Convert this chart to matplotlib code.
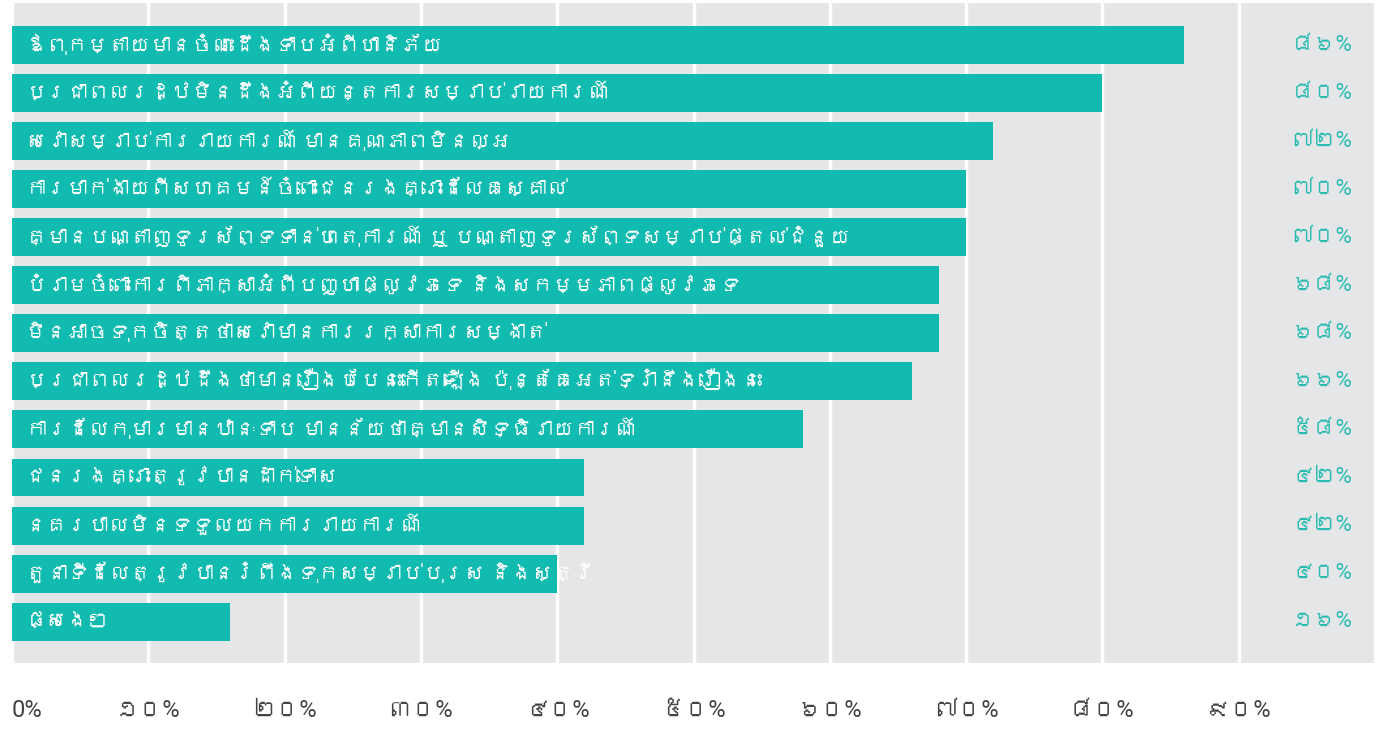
import matplotlib
matplotlib.use("Agg")
import matplotlib.pyplot as plt
from matplotlib import font_manager as fm
from matplotlib.ft2font import FT2Font

categories = [
    "ឪពុកម្តាយមានចំណេះដឹងទាបអំពីហានិភ័យ",
    "ប្រជាពលរដ្ឋមិនដឹងអំពីយន្តការសម្រាប់រាយការណ៍",
    "សេវាសម្រាប់ការរាយការណ៍ មានគុណភាពមិនល្អ",
    "ការមាក់ងាយពីសហគមន៍ចំពោះជនរងគ្រោះដែលគេស្គាល់",
    "គ្មានបណ្តាញទូរស័ព្ទទាន់ហេតុការណ៍ ឬ បណ្តាញទូរស័ព្ទសម្រាប់ផ្តល់ជំនួយ",
    "បំរាមចំពោះការពិភាក្សាអំពីបញ្ហាផ្លូវភេទ និងសកម្មភាពផ្លូវភេទ",
    "មិនអាចទុកចិត្តថាសេវាមានការរក្សាការសម្ងាត់",
    "ប្រជាពលរដ្ឋដឹងថាមានរឿងបែបនេះកើតឡើង ប៉ុន្តែគេអត់ទ្រាំនឹងរឿងនេះ",
    "ការដែលកុមារមានឋានៈទាប មានន័យថាគ្មានសិទ្ធិរាយការណ៍",
    "ជនរងគ្រោះត្រូវបានដាក់ទោស",
    "នគរបាលមិនទទួលយកការរាយការណ៍",
    "តួនាទីដែលត្រូវបានរំពឹងទុកសម្រាប់បុរស និងស្ត្រី",
    "ផ្សេងៗ",
]
values = [86, 80, 72, 70, 70, 68, 68, 66, 58, 42, 42, 40, 16]
value_labels = ["៨៦%", "៨០%", "៧២%", "៧០%", "៧០%", "៦៨%", "៦៨%", "៦៦%",
                "៥៨%", "៤២%", "៤២%", "៤០%", "១៦%"]
tick_values = [0, 10, 20, 30, 40, 50, 60, 70, 80, 90]
tick_labels = ["0%", "១០%", "២០%", "៣០%", "៤០%", "៥០%", "៦០%", "៧០%", "៨០%", "៩០%"]

# find a font that covers Khmer if one exists
khmer_family = None
for f in fm.fontManager.ttflist:
    try:
        if 0x1780 in FT2Font(f.fname).get_charmap():
            khmer_family = f.name
            break
    except Exception:
        pass
families = ["Roboto"] + ([khmer_family] if khmer_family else []) + ["DejaVu Sans"]
plt.rcParams["font.family"] = families

TEAL = "#12bbb0"
GREY_BG = "#e5e6e8"

fig = plt.figure(figsize=(13.86, 7.29), dpi=100)
ax = fig.add_axes([12 / 1386, 66 / 729, 1363 / 1386, 660 / 729])
ax.set_facecolor(GREY_BG)

y = list(range(len(categories)))
ax.set_xlim(0, 100)
ax.set_ylim(len(categories) - 1 + 0.86, -0.875)

for t in tick_values + [100]:
    ax.axvline(t, color="white", lw=2.5, zorder=1)

ax.barh(y, values, height=0.79, color=TEAL, zorder=2)

for yi, cat, lab in zip(y, categories, value_labels):
    ax.text(1.0, yi, cat, color="white", fontsize=15, va="center", ha="left", zorder=3)
    ax.text(96.1, yi, lab, color="#2bbcb1", fontsize=16, va="center", ha="center", zorder=3)

ax.set_xticks(tick_values)
ax.set_xticklabels(tick_labels, fontsize=17, color="#444444")
lbls = ax.get_xticklabels()
lbls[0].set_ha("left")
ax.tick_params(axis="x", length=0, pad=26)
ax.set_yticks([])
for s in ax.spines.values():
    s.set_visible(False)

fig.savefig("out.png", dpi=100, facecolor="white")
